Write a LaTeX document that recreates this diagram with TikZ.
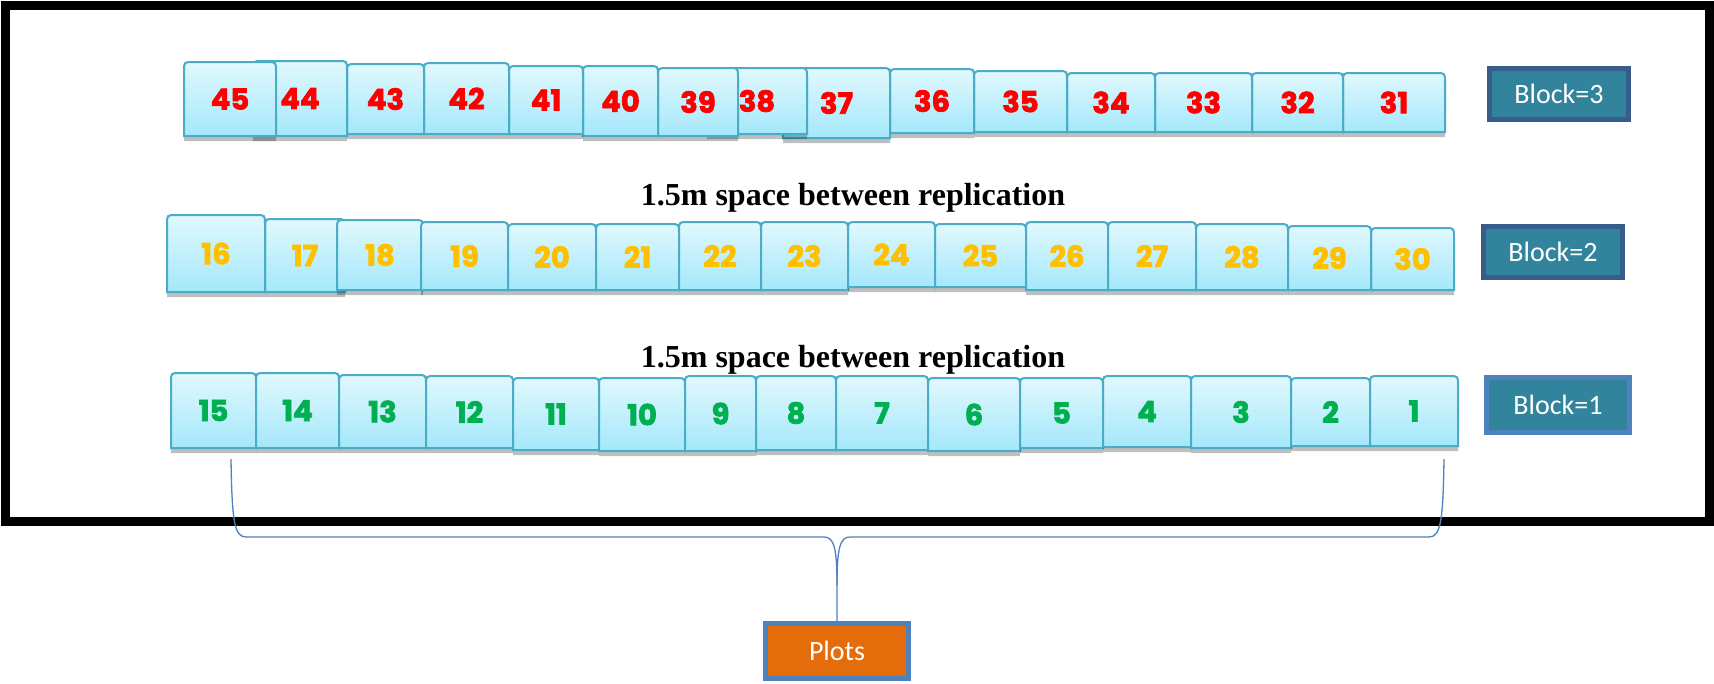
\documentclass[tikz,border=0pt]{standalone}
\usepackage{fontspec}
\usetikzlibrary{shadows}
\newfontfamily\numfont{Poppins}[FakeBold=2.5]
\newfontfamily\calib{Carlito}
\newfontfamily\timesf{Liberation Serif}
\definecolor{boxtop}{HTML}{E1F8FD}
\definecolor{boxbot}{HTML}{A4E8FB}
\definecolor{boxline}{HTML}{4BACC6}
\definecolor{numred}{HTML}{FF0000}
\definecolor{numgold}{HTML}{FFC000}
\definecolor{numgreen}{HTML}{00B050}
\definecolor{blockfill}{HTML}{31849B}
\definecolor{blockdark}{HTML}{385D8A}
\definecolor{blocklight}{HTML}{4F81BD}
\definecolor{plotorange}{HTML}{E46C0A}
\definecolor{bracecol}{HTML}{4F81BD}
\tikzset{
  plotshape/.style={draw=boxline, line width=2pt, top color=boxtop, bottom color=boxbot,
    drop shadow={shadow xshift=0pt, shadow yshift=-5pt, opacity=0.25, fill=black}},
  numlabel/.style={font=\numfont\bfseries\fontsize{29}{29}\selectfont, inner sep=0pt},
  blockbox/.style={fill=blockfill, line width=5pt, text=white, minimum width=139pt,
    minimum height=51pt, font=\calib\fontsize{28}{28}\selectfont, inner sep=0pt},
  headtext/.style={font=\timesf\bfseries\fontsize{32}{32}\selectfont, anchor=base},
  bracepath/.style={draw=bracecol, line width=1.3pt},
}
\newcommand\pbox[7]{%
  \path[plotshape] (#2,#5) -- (#2,#4+9) .. controls (#2,#4) .. (#2+9,#4) -- (#3-9,#4)
    .. controls (#3,#4) .. (#3,#4+9) -- (#3,#5) -- cycle;
  \node[numlabel, text=#7] (#1) at ({(#2+#3)/2},{(#4+#5)/2}) {#6};
}
\begin{document}
\begin{tikzpicture}[x=1pt, y=-1pt]
\useasboundingbox (0,0) rectangle (1714,683);
\fill[white] (0,0) rectangle (1714,683);
% frame
\draw[line width=9pt] (5,5) rectangle (1709,521);
% row 3 (right to left)
\pbox{p31}{1343}{1445}{73}{132}{31}{numred}
\pbox{p32}{1252}{1343}{73}{132}{32}{numred}
\pbox{p33}{1155}{1252}{73}{132}{33}{numred}
\pbox{p34}{1067}{1155}{73}{132}{34}{numred}
\pbox{p35}{974}{1067}{71}{132}{35}{numred}
\pbox{p36}{890}{974}{69}{133}{36}{numred}
\pbox{p37}{783}{890}{68}{138}{37}{numred}
\pbox{p38}{707}{807}{68}{134}{38}{numred}
\pbox{p39}{658}{738}{68}{136}{39}{numred}
\pbox{p40}{583}{658}{66}{136}{40}{numred}
\pbox{p41}{509}{583}{66}{134}{41}{numred}
\pbox{p42}{424}{509}{63}{134}{42}{numred}
\pbox{p43}{347}{424}{64}{134}{43}{numred}
\pbox{p44}{253}{347}{61}{136}{44}{numred}
\pbox{p45}{184}{276}{62}{136}{45}{numred}
\node[blockbox, draw=blockdark] (b3) at (1559,94) {Block=3};
% heading 1
\node[headtext] (h1) at (853,205) {1.5m space between replication};
% row 2
\pbox{p17}{265}{345}{219}{292}{17}{numgold}
\pbox{p16}{167}{265}{215}{292}{16}{numgold}
\pbox{p18}{337}{423}{220}{290}{18}{numgold}
\pbox{p19}{421}{508}{222}{290}{19}{numgold}
\pbox{p20}{508}{596}{224}{290}{20}{numgold}
\pbox{p21}{596}{679}{224}{290}{21}{numgold}
\pbox{p22}{679}{761}{222}{290}{22}{numgold}
\pbox{p23}{761}{848}{222}{290}{23}{numgold}
\pbox{p24}{848}{935}{222}{287}{24}{numgold}
\pbox{p25}{935}{1026}{224}{287}{25}{numgold}
\pbox{p26}{1026}{1108}{222}{290}{26}{numgold}
\pbox{p27}{1108}{1196}{222}{290}{27}{numgold}
\pbox{p28}{1196}{1288}{224}{290}{28}{numgold}
\pbox{p30}{1371}{1454}{228}{290}{30}{numgold}
\pbox{p29}{1288}{1371}{226}{290}{29}{numgold}
\node[blockbox, draw=blockdark] (b2) at (1553,252) {Block=2};
% heading 2
\node[headtext] (h2) at (853,367) {1.5m space between replication};
% row 1
\pbox{p15}{171}{256}{373}{448}{15}{numgreen}
\pbox{p14}{256}{339}{373}{448}{14}{numgreen}
\pbox{p13}{339}{426}{375}{448}{13}{numgreen}
\pbox{p12}{426}{513}{376}{448}{12}{numgreen}
\pbox{p11}{513}{599}{378}{450}{11}{numgreen}
\pbox{p10}{599}{685}{378}{451}{10}{numgreen}
\pbox{p9}{685}{756}{376}{451}{9}{numgreen}
\pbox{p8}{756}{836}{376}{450}{8}{numgreen}
\pbox{p7}{836}{928}{376}{450}{7}{numgreen}
\pbox{p6}{928}{1020}{378}{451}{6}{numgreen}
\pbox{p5}{1020}{1103}{378}{448}{5}{numgreen}
\pbox{p4}{1103}{1191}{376}{447}{4}{numgreen}
\pbox{p3}{1191}{1291}{376}{448}{3}{numgreen}
\pbox{p2}{1291}{1370}{378}{446}{2}{numgreen}
\pbox{p1}{1370}{1458}{376}{446}{1}{numgreen}
\node[blockbox, draw=blocklight, minimum width=143pt, minimum height=55pt] (b1) at (1558,405) {Block=1};
% plots
\node[fill=plotorange, draw=blocklight, line width=5pt, text=white, minimum width=143pt,
  minimum height=55pt, font=\calib\fontsize{28}{28}\selectfont, inner sep=0pt] (plots) at (837,651) {Plots};
% brace
\coordinate (bl) at (231,459);
\coordinate (br) at (1444,459);
\coordinate (cusp) at (837,585);
\draw[bracepath] (bl) .. controls (232,520) and (234,537) .. (246,537) -- (824,537)
  .. controls (834,537) and (837,548) .. (cusp) -- (plots.north);
\draw[bracepath] (br) .. controls (1443,520) and (1441,537) .. (1429,537) -- (850,537)
  .. controls (840,537) and (837,548) .. (cusp);
\end{tikzpicture}
\end{document}
